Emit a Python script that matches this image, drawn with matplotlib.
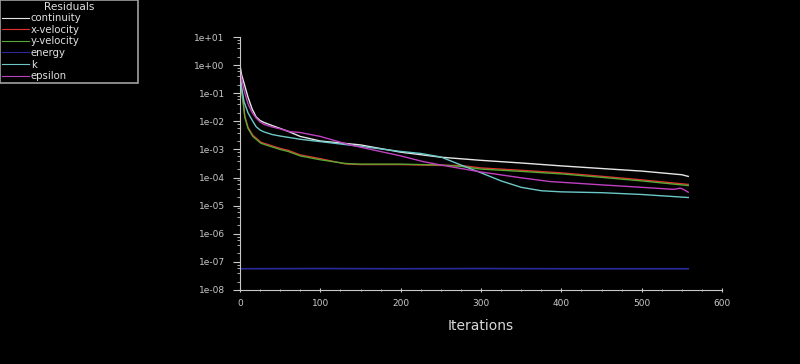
import matplotlib
matplotlib.use('Agg')
import matplotlib.pyplot as plt
from matplotlib.ticker import LogLocator, FuncFormatter, MultipleLocator

# residual history (iteration, residual)
iters_cont = [0, 2, 5, 10, 15, 20, 25, 30, 40, 50, 60, 75, 100, 150, 200, 250, 300, 350, 400, 450, 500, 550, 558]
continuity = [1.0, 0.45, 0.23, 0.072, 0.028, 0.0145, 0.0107, 0.0091, 0.0071, 0.0056, 0.0044, 0.0029,
              0.0020, 0.00145, 0.00080, 0.00053, 0.00041, 0.00033, 0.00026, 0.00021, 0.00017, 0.000126, 0.00011]

iters_vel = [0, 2, 4, 6, 10, 16, 26, 40, 50, 60, 75, 100, 130, 137, 150, 200, 250, 275, 300, 350, 400, 450, 500, 558]
y_velocity = [0.56, 0.126, 0.045, 0.014, 0.0056, 0.0029, 0.00166, 0.00123, 0.0010, 0.00085, 0.00059, 0.00043,
              0.00032, 0.00031, 0.00030, 0.00030, 0.00028, 0.00025, 0.00020, 0.000166, 0.000135, 0.000102, 0.000076, 0.000052]
x_velocity = [0.6, 0.135, 0.049, 0.0152, 0.0061, 0.0032, 0.00181, 0.00134, 0.00109, 0.00093, 0.00064, 0.00047,
              0.00031, 0.00030, 0.00029, 0.00029, 0.00027, 0.00027, 0.00022, 0.000181, 0.000147, 0.000111, 0.000083, 0.000057]

iters_energy = [0, 100, 200, 300, 400, 500, 558]
energy = [5.7e-8, 5.8e-8, 5.7e-8, 5.8e-8, 5.7e-8, 5.7e-8, 5.7e-8]

iters_k = [0, 2, 5, 10, 15, 20, 25, 30, 40, 50, 60, 75, 100, 150, 200, 225, 250, 275, 300, 325, 350, 375, 400, 450, 500, 558]
k = [0.5, 0.16, 0.05, 0.02, 0.0112, 0.0065, 0.0049, 0.0042, 0.0034, 0.0030, 0.0027, 0.0023, 0.0019, 0.00129,
     0.00085, 0.00072, 0.00054, 0.00028, 0.000148, 0.000076, 0.000045, 0.000034, 0.000031, 0.000029, 0.000025, 0.0000195]

iters_eps = [0, 2, 5, 10, 15, 20, 25, 30, 40, 50, 62, 75, 100, 137, 200, 228, 250, 300, 350, 386, 400, 450, 500, 540, 548, 552, 558]
epsilon = [0.63, 0.32, 0.13, 0.042, 0.021, 0.0132, 0.0095, 0.0078, 0.0063, 0.0054, 0.0043, 0.0040, 0.0029, 0.00145,
           0.00059, 0.00037, 0.00028, 0.000158, 0.000098, 0.000072, 0.000068, 0.000055, 0.000045, 0.000038, 0.000042,
           0.000038, 0.000030]

tick_color = '#c8c8c8'

fig = plt.figure(figsize=(8, 3.64), dpi=100, facecolor='black')
ax = fig.add_axes([0.3, 0.2033, 0.6025, 0.695])
ax.set_facecolor('black')

# plot each residual
ax.plot(iters_cont, continuity, color='#e6e6e6', lw=1, label='continuity')
ax.plot(iters_vel, x_velocity, color='#e03030', lw=1, label='x-velocity')
ax.plot(iters_vel, y_velocity, color='#5aa832', lw=1, label='y-velocity')
ax.plot(iters_energy, energy, color='#2a2a9a', lw=1.2, label='energy')
ax.plot(iters_k, k, color='#6cc8c8', lw=1, label='k')
ax.plot(iters_eps, epsilon, color='#c040c0', lw=1, label='epsilon')

ax.set_yscale('log')
ax.set_ylim(1e-8, 1e1)
ax.set_xlim(0, 600)

# axes styling
for side in ['top', 'right']:
    ax.spines[side].set_visible(False)
for side in ['left', 'bottom']:
    ax.spines[side].set_color(tick_color)
    ax.spines[side].set_linewidth(0.8)

ax.yaxis.set_major_locator(LogLocator(base=10, numticks=12))
ax.yaxis.set_minor_locator(LogLocator(base=10, subs=[2, 4, 6, 8], numticks=12))
ax.yaxis.set_major_formatter(FuncFormatter(lambda v, p: '%.0e' % v))
ax.xaxis.set_major_locator(MultipleLocator(100))
ax.xaxis.set_minor_locator(MultipleLocator(25))
ax.tick_params(axis='y', which='major', length=5, width=0.8, colors=tick_color, labelsize=6.5, pad=6)
ax.tick_params(axis='y', which='minor', length=2.5, width=0.6, colors=tick_color)
ax.tick_params(axis='x', which='major', length=3, width=0.8, direction='inout', colors=tick_color, labelsize=6.5, pad=5)
ax.tick_params(axis='x', which='minor', length=2, width=0.6, direction='inout', colors=tick_color)
ax.set_xlabel('Iterations', color='#d8d8d8', fontsize=10, labelpad=8)

# legend in the upper left corner of the window
leg = fig.legend(loc='upper left', bbox_to_anchor=(0.0, 0.7695, 0.1725, 0.2305), mode='expand',
                 borderaxespad=0, title='Residuals', fontsize=7.3, title_fontsize=7.6,
                 handlelength=2.7, handletextpad=0.2, borderpad=0.15, labelspacing=0.16,
                 frameon=True, fancybox=False, facecolor='black', edgecolor='#a0a0a0', framealpha=1)
leg.get_frame().set_linewidth(1.2)
leg.get_title().set_color('#e0e0e0')
for t in leg.get_texts():
    t.set_color('#e0e0e0')
for h in leg.get_lines():
    h.set_linewidth(0.8)

plt.savefig('out.png', dpi=100, facecolor='black')
